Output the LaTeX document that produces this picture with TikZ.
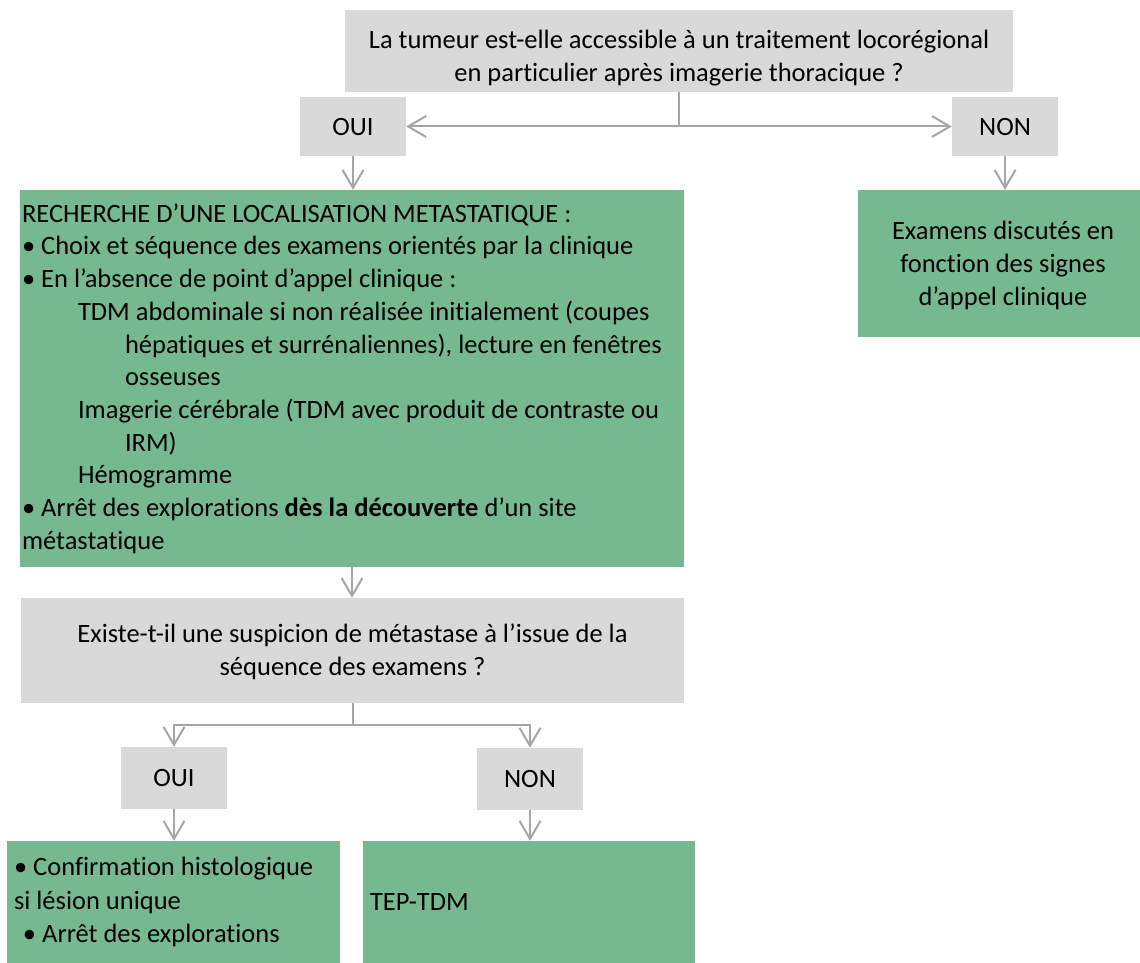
\documentclass[tikz,border=0pt]{standalone}
\usepackage{fontspec}
\setmainfont{Carlito}[Ligatures=NoCommon]
\usetikzlibrary{arrows.meta}
\definecolor{boxgray}{HTML}{D9D9D9}
\definecolor{boxgreen}{HTML}{76B990}
\definecolor{linegray}{HTML}{A6A6A6}
\begin{document}
\begin{tikzpicture}[x=1pt,y=-1pt,
  txt/.style={font=\fontsize{26.5}{32.7}\selectfont},
  qbox/.style={fill=boxgray, inner sep=0pt, align=center, txt},
  gbox/.style={fill=boxgreen, inner sep=0pt, txt},
  plain/.style={inner sep=0pt, align=center, txt},
  arr/.style={draw=linegray, line width=2pt, -{Straight Barb[length=18pt,width=21pt]}},
  link/.style={draw=linegray, line width=2pt}]
\useasboundingbox (0,0) rectangle (1140,963);

\node[qbox, minimum width=668pt, minimum height=82pt] (tq) at (679,51) {};
\node[plain] (tqt) at (679,58)
  {La tumeur est-elle accessible à un traitement locorégional\\en particulier après imagerie thoracique ?};
\node[qbox, minimum width=106pt, minimum height=59pt] (oui1) at (353,126.5) {OUI};
\node[qbox, minimum width=106pt, minimum height=59pt] (non1) at (1005,126.5) {NON};

\node[gbox, minimum width=664pt, minimum height=377pt, text width=660pt, align=flush left] (g1) at (352,378.5)
  {RECHERCHE D’UNE LOCALISATION METASTATIQUE :\\
   • Choix et séquence des examens orientés par la clinique\\
   • En l’absence de point d’appel clinique :\\
   \hspace*{56pt}TDM abdominale si non réalisée initialement (coupes\\
   \hspace*{103pt}hépatiques et surrénaliennes), lecture en fenêtres\\
   \hspace*{103pt}osseuses\\
   \hspace*{56pt}Imagerie cérébrale (TDM avec produit de contraste ou\\
   \hspace*{103pt}IRM)\\
   \hspace*{56pt}Hémogramme\\
   • Arrêt des explorations \textbf{dès la découverte} d’un site\\
   métastatique};

\node[gbox, minimum width=282pt, minimum height=147pt] (g2) at (999,263.5) {};
\node[plain] (g2t) at (1003,265.5)
  {Examens discutés en\\fonction des signes\\d’appel clinique};

\node[qbox, minimum width=663pt, minimum height=105pt] (q2) at (352.5,650.5) {};
\node[plain] (q2t) at (352.5,652)
  {Existe-t-il une suspicion de métastase à l’issue de la\\séquence des examens ?};

\node[qbox, minimum width=106pt, minimum height=62pt] (oui2) at (174,778) {OUI};
\node[qbox, minimum width=106pt, minimum height=62pt] (non2) at (530,779) {NON};

\node[gbox, minimum width=333pt, minimum height=122pt, text width=319pt, align=flush left,
      font=\fontsize{26.5}{33.5}\selectfont] (g3) at (173.5,902)
  {• Confirmation histologique\\si lésion unique\\\hspace*{9pt}• Arrêt des explorations};
\node[gbox, minimum width=332pt, minimum height=122pt, text width=318pt, align=flush left] (g4) at (529,902)
  {TEP-TDM};

% connectors
\draw[arr] (tq.south) |- (oui1.east);
\draw[arr] (tq.south) |- (non1.west);
\draw[arr] (oui1.south) -- (oui1.south |- g1.north);
\draw[arr] (non1.south) -- (non1.south |- g2.north);
\draw[arr] (g1.south) -- (g1.south |- q2.north);
\coordinate (split) at ([yshift=-22pt]q2.south);
\draw[arr] (q2.south) -- (split) -| (oui2.north);
\draw[arr] (split) -| (non2.north);
\draw[arr] (oui2.south) -- (oui2.south |- g3.north);
\draw[arr] (non2.south) -- (non2.south |- g4.north);
\end{tikzpicture}
\end{document}
